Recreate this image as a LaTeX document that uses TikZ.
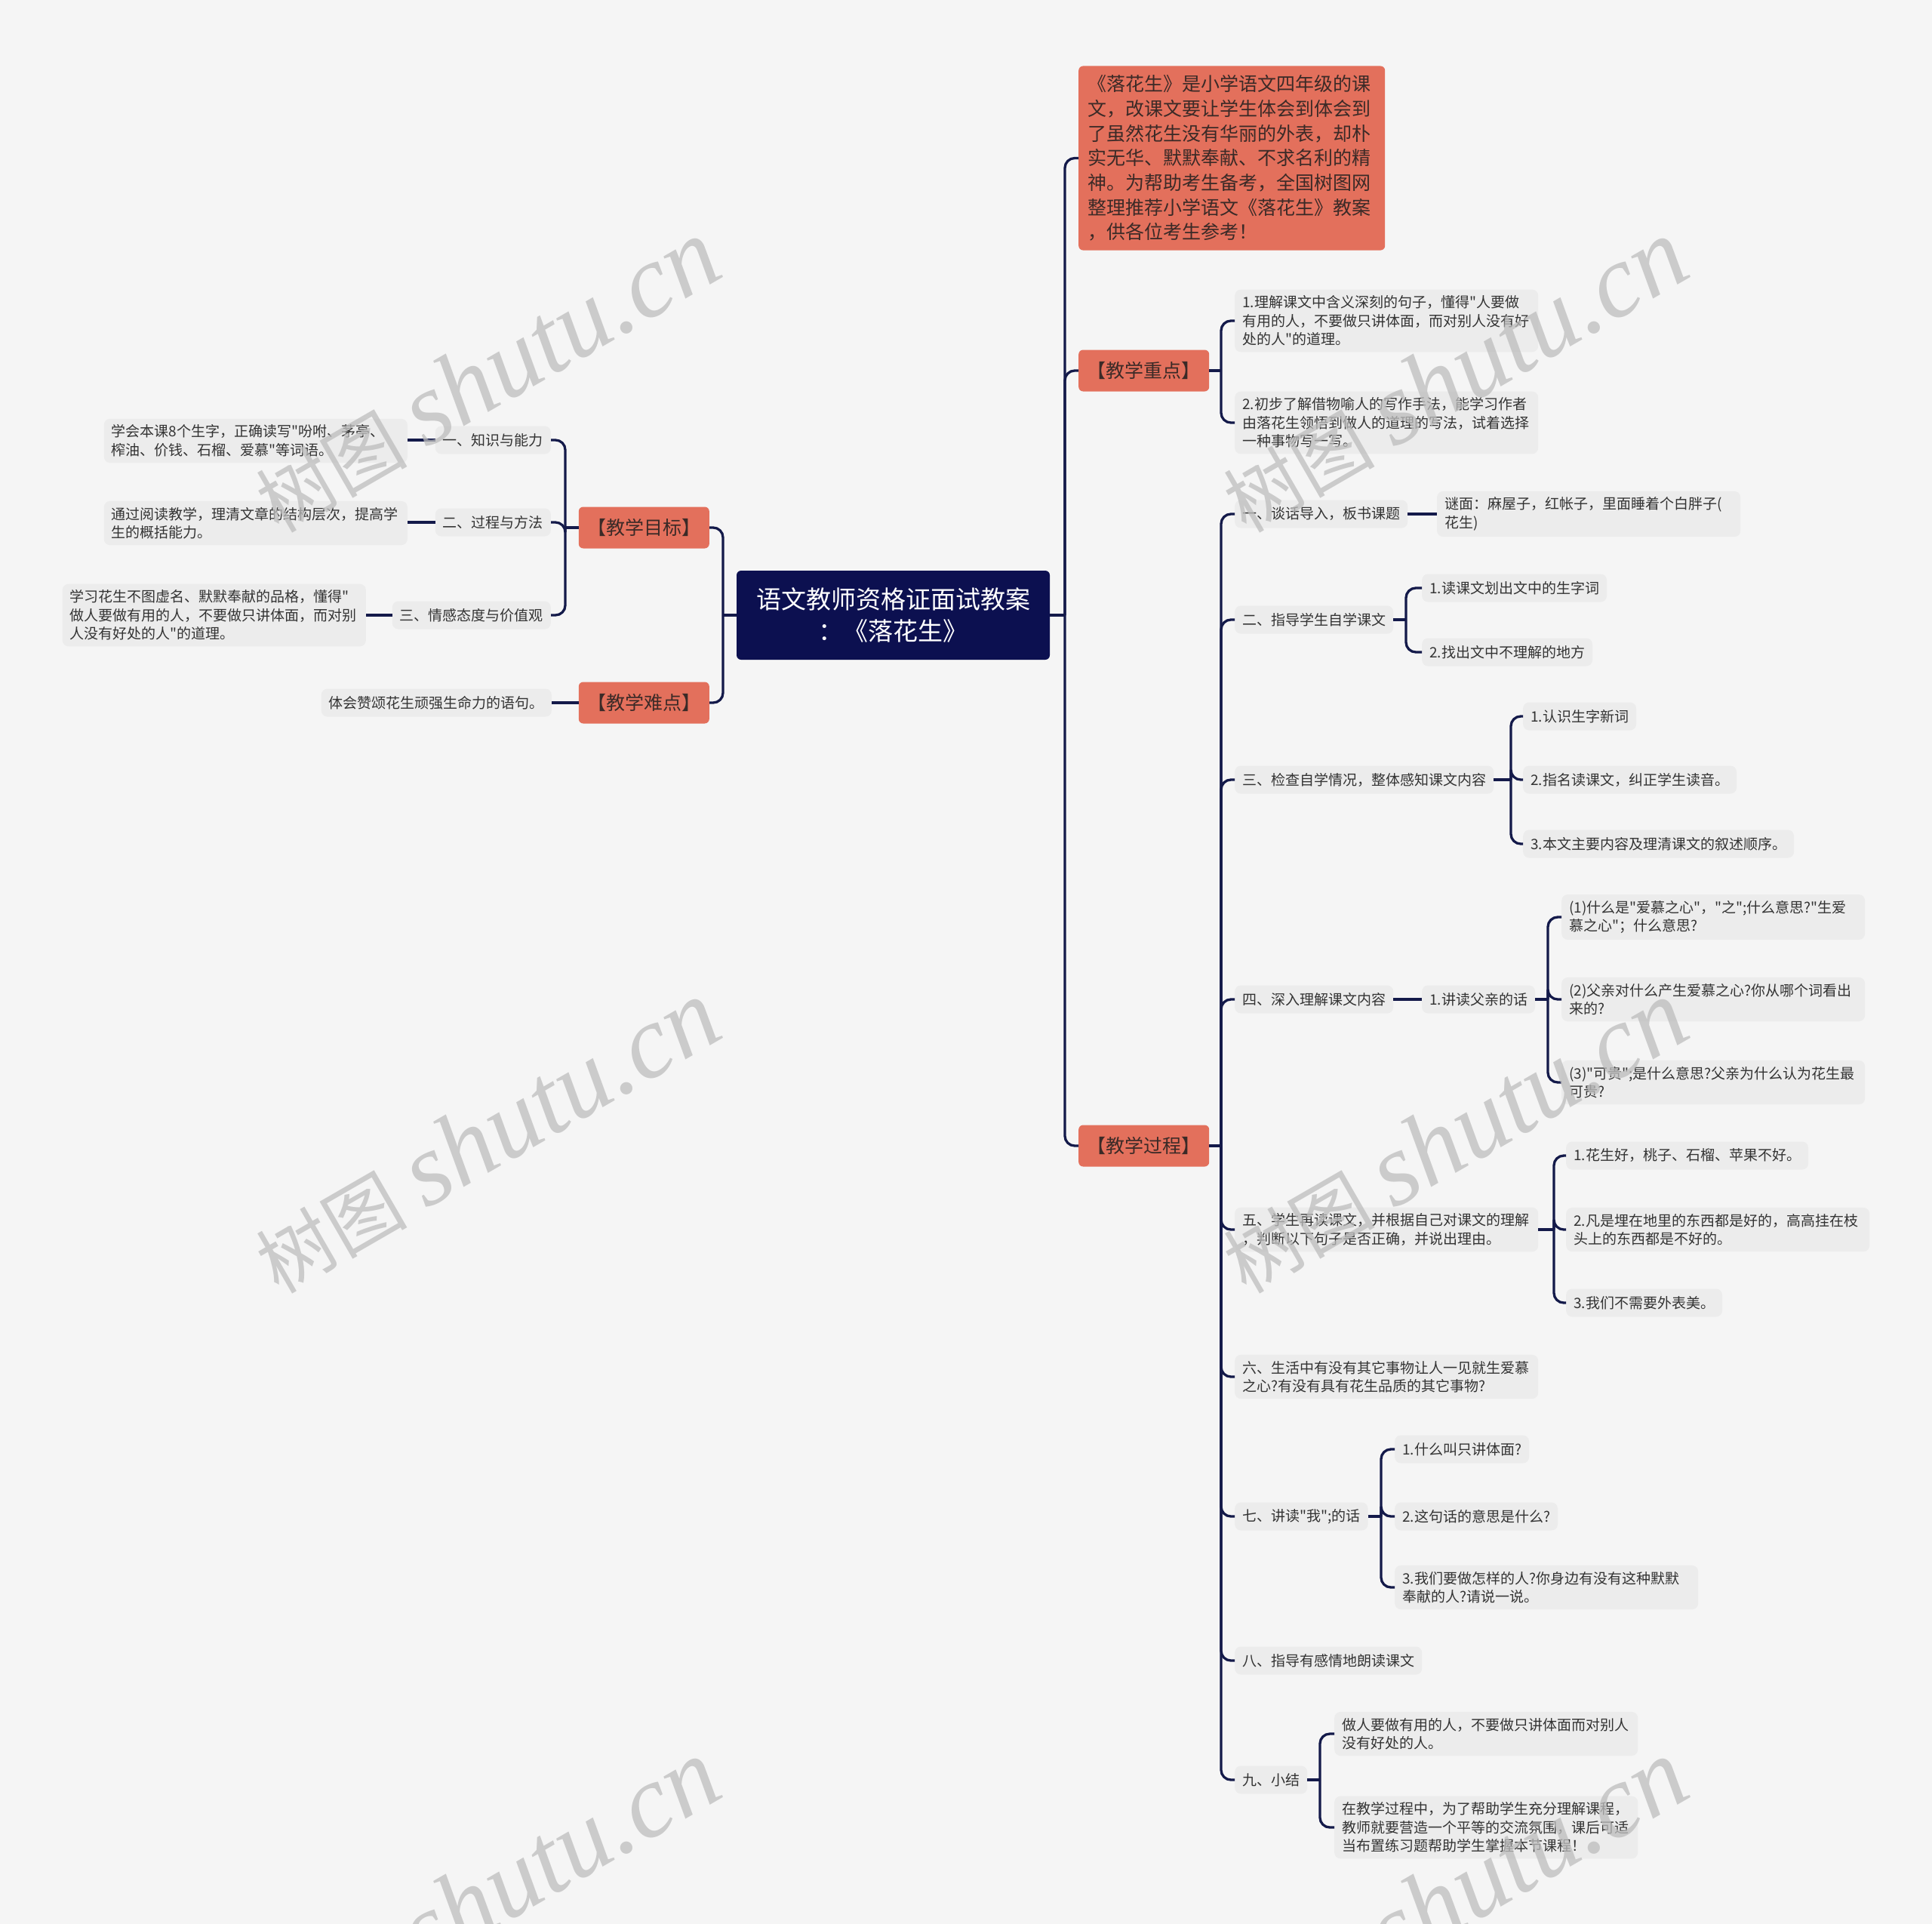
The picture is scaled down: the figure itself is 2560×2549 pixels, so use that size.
\documentclass[tikz,border=0pt]{standalone}
\usepackage{fontspec}
\newfontfamily\cjk{Noto Sans CJK SC}
\newfontfamily\wmserif{Liberation Serif}
\definecolor{bg}{HTML}{F5F5F5}
\definecolor{leafgray}{HTML}{ECECEC}
\definecolor{txt}{HTML}{333333}
\definecolor{orng}{HTML}{E3705C}
\definecolor{lbltxt}{HTML}{3B2A27}
\definecolor{navy}{HTML}{0C1050}
\definecolor{linec}{HTML}{141A4A}
\definecolor{wm}{HTML}{BDBDBD}
\tikzset{
  leaf/.style={fill=leafgray, rounded corners=8, inner xsep=10, inner ysep=8, minimum height=37,
    font=\cjk\fontsize{19}{24.5}\selectfont, text=txt, align=left},
  leafw/.style={leaf, text width=382},
  lbl/.style={fill=orng, rounded corners=6, minimum width=173, minimum height=55, inner sep=0,
    font=\cjk\fontsize{25}{30}\selectfont, text=lbltxt},
  rootbox/.style={fill=navy, rounded corners=6, minimum width=415, minimum height=118, inner sep=0,
    font=\cjk\fontsize{33}{42}\selectfont, text=white, align=center},
  introbox/.style={fill=orng, rounded corners=6, text width=382, inner xsep=12, inner ysep=12,
    font=\cjk\fontsize{25}{32.7}\selectfont, text=lbltxt, align=left},
  conn/.style={draw=linec, line width=3.3},
  wmark/.style={text=wm, opacity=0.75, rotate=30, inner sep=0}
}
\newcommand\rbr[3]{\draw[conn] (#1.east) -- (#1.east -| #2);
  \foreach \ch in {#3} {\draw[conn, rounded corners=13] (#1.east -| #2) |- (\ch.west);}}
\newcommand\lbr[3]{\draw[conn] (#1.west) -- (#1.west -| #2);
  \foreach \ch in {#3} {\draw[conn, rounded corners=13] (#1.west -| #2) |- (\ch.east);}}
\begin{document}
\begin{tikzpicture}[x=1pt, y=-1pt]
\useasboundingbox (0,0) rectangle (2560,2549);
\fill[bg] (0,0) rectangle (2560,2549);

% trunk coordinates
\coordinate (tR) at (1411,0);
\coordinate (tL) at (958,0);
\coordinate (tZ) at (1618,0);
\coordinate (tM) at (749,0);
\coordinate (t2) at (1863,0);
\coordinate (t3) at (2002,0);
\coordinate (t4) at (2051,0);
\coordinate (t5) at (2059,0);
\coordinate (t7) at (1830,0);
\coordinate (t9) at (1749,0);

% root
\node[rootbox] (root) at (1183.5,815) {语文教师资格证面试教案\\：《落花生》};

% right side level 1
\node[introbox, anchor=west] (intro) at (1429,209.5) {《落花生》是小学语文四年级的课\\文，改课文要让学生体会到体会到\\了虽然花生没有华丽的外表，却朴\\实无华、默默奉献、不求名利的精\\神。为帮助考生备考，全国树图网\\整理推荐小学语文《落花生》教案\\，供各位考生参考！};
\node[lbl, anchor=west] (kz) at (1429,491) {【教学重点】};
\node[lbl, anchor=west] (kp) at (1429,1518) {【教学过程】};

% left side level 1
\node[lbl, anchor=east] (mb) at (940,699) {【教学目标】};
\node[lbl, anchor=east] (nd) at (940,931) {【教学难点】};

% 教学重点 children
\node[leafw, anchor=west] (z1) at (1636,425) {1.理解课文中含义深刻的句子，懂得"人要做\\有用的人，不要做只讲体面，而对别人没有好\\处的人"的道理。};
\node[leafw, anchor=west] (z2) at (1636,560) {2.初步了解借物喻人的写作手法，能学习作者\\由落花生领悟到做人的道理的写法，试着选择\\一种事物写一写。};

% 教学过程 children
\node[leaf, anchor=west] (p1) at (1636,681) {一、谈话导入，板书课题};
\node[leafw, anchor=west] (p1a) at (1904,681) {谜面：麻屋子，红帐子，里面睡着个白胖子(\\花生)};
\node[leaf, anchor=west] (p2) at (1636,821) {二、指导学生自学课文};
\node[leaf, anchor=west] (p2a) at (1884,779) {1.读课文划出文中的生字词};
\node[leaf, anchor=west] (p2b) at (1884,864) {2.找出文中不理解的地方};
\node[leaf, anchor=west] (p3) at (1636,1033) {三、检查自学情况，整体感知课文内容};
\node[leaf, anchor=west] (p3a) at (2018,949) {1.认识生字新词};
\node[leaf, anchor=west] (p3b) at (2018,1033) {2.指名读课文，纠正学生读音。};
\node[leaf, anchor=west] (p3c) at (2018,1118) {3.本文主要内容及理清课文的叙述顺序。};
\node[leaf, anchor=west] (p4) at (1636,1324) {四、深入理解课文内容};
\node[leaf, anchor=west] (p4a) at (1884,1324) {1.讲读父亲的话};
\node[leafw, anchor=west] (p4a1) at (2069,1215) {(1)什么是"爱慕之心"，"之";什么意思?"生爱\\慕之心"；什么意思?};
\node[leafw, anchor=west] (p4a2) at (2069,1324) {(2)父亲对什么产生爱慕之心?你从哪个词看出\\来的?};
\node[leafw, anchor=west] (p4a3) at (2069,1434) {(3)"可贵";是什么意思?父亲为什么认为花生最\\可贵?};
\node[leafw, anchor=west] (p5) at (1636,1629) {五、学生再读课文，并根据自己对课文的理解\\，判断以下句子是否正确，并说出理由。};
\node[leaf, anchor=west] (p5a) at (2075,1531) {1.花生好，桃子、石榴、苹果不好。};
\node[leafw, anchor=west] (p5b) at (2075,1629) {2.凡是埋在地里的东西都是好的，高高挂在枝\\头上的东西都是不好的。};
\node[leaf, anchor=west] (p5c) at (2075,1726) {3.我们不需要外表美。};
\node[leafw, anchor=west] (p6) at (1636,1824) {六、生活中有没有其它事物让人一见就生爱慕\\之心?有没有具有花生品质的其它事物?};
\node[leaf, anchor=west] (p7) at (1636,2009) {七、讲读"我";的话};
\node[leaf, anchor=west] (p7a) at (1848,1920) {1.什么叫只讲体面?};
\node[leaf, anchor=west] (p7b) at (1848,2009) {2.这句话的意思是什么?};
\node[leafw, anchor=west] (p7c) at (1848,2103) {3.我们要做怎样的人?你身边有没有这种默默\\奉献的人?请说一说。};
\node[leaf, anchor=west] (p8) at (1636,2200) {八、指导有感情地朗读课文};
\node[leaf, anchor=west] (p9) at (1636,2358) {九、小结};
\node[leafw, anchor=west] (p9a) at (1768,2297) {做人要做有用的人，不要做只讲体面而对别人\\没有好处的人。};
\node[leafw, anchor=west] (p9b) at (1768,2421) {在教学过程中，为了帮助学生充分理解课程，\\教师就要营造一个平等的交流氛围，课后可适\\当布置练习题帮助学生掌握本节课程！};

% 教学目标 children
\node[leaf, anchor=east] (m1) at (730,583) {一、知识与能力};
\node[leaf, anchor=east] (m2) at (730,692) {二、过程与方法};
\node[leaf, anchor=east] (m3) at (730,815) {三、情感态度与价值观};
\node[leafw, anchor=east] (m1a) at (540,584) {学会本课8个生字，正确读写"吩咐、茅亭、\\榨油、价钱、石榴、爱慕"等词语。};
\node[leafw, anchor=east] (m2a) at (540,693) {通过阅读教学，理清文章的结构层次，提高学\\生的概括能力。};
\node[leafw, anchor=east] (m3a) at (485,815) {学习花生不图虚名、默默奉献的品格，懂得"\\做人要做有用的人，不要做只讲体面，而对别\\人没有好处的人"的道理。};
\node[leaf, anchor=east] (nda) at (731,931) {体会赞颂花生顽强生命力的语句。};

% connectors
\rbr{root}{tR}{intro,kz,kp}
\lbr{root}{tL}{mb,nd}
\rbr{kz}{tZ}{z1,z2}
\rbr{kp}{tZ}{p1,p2,p3,p4,p5,p6,p7,p8,p9}
\draw[conn] (p1.east) -- (p1a.west);
\rbr{p2}{t2}{p2a,p2b}
\rbr{p3}{t3}{p3a,p3b,p3c}
\draw[conn] (p4.east) -- (p4a.west);
\rbr{p4a}{t4}{p4a1,p4a2,p4a3}
\rbr{p5}{t5}{p5a,p5b,p5c}
\rbr{p7}{t7}{p7a,p7b,p7c}
\rbr{p9}{t9}{p9a,p9b}
\lbr{mb}{tM}{m1,m2,m3}
\draw[conn] (m1.west) -- (m1.west -| m1a.east);
\draw[conn] (m2.west) -- (m2.west -| m2a.east);
\draw[conn] (m3.west) -- (m3a.east);
\draw[conn] (nd.west) -- (nda.east);

% watermarks
\foreach \wx/\wy [count=\i] in {645/498, 1927/498, 645/1506, 1927/1506, 645/2512, 1927/2512} {
  \node[wmark] (wm\i) at (\wx,\wy) {{\cjk\fontsize{100}{100}\selectfont 树图}\hspace{25pt}{\wmserif\itshape\fontsize{137}{137}\selectfont shutu.cn}};
}
\end{tikzpicture}
\end{document}
